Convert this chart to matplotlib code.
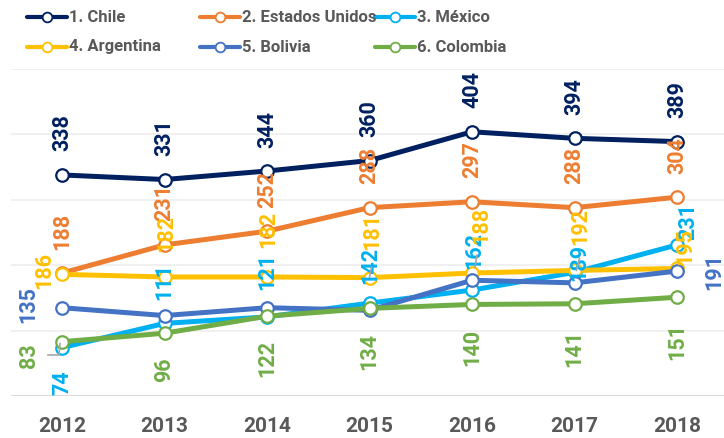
import matplotlib
matplotlib.use('Agg')
import matplotlib.pyplot as plt
from matplotlib import font_manager
from matplotlib.lines import Line2D
from matplotlib.transforms import IdentityTransform

# data
years = ['2012', '2013', '2014', '2015', '2016', '2017', '2018']
chile = [338, 331, 344, 360, 404, 394, 389]
estados_unidos = [188, 231, 252, 288, 297, 288, 304]
mexico = [74, 111, 121, 142, 162, 189, 231]
argentina = [186, 182, 182, 181, 188, 192, 195]
bolivia = [135, 123, 135, 131, 177, 173, 191]
colombia = [83, 96, 122, 134, 140, 141, 151]

names = ['1. Chile', '2. Estados Unidos', '3. México',
         '4. Argentina', '5. Bolivia', '6. Colombia']
colors = ['#002060', '#ED7D31', '#00B0F0', '#FFC000', '#4472C4', '#70AD47']
series = [chile, estados_unidos, mexico, argentina, bolivia, colombia]

# label centre offsets from the marker, in pixels (up is positive); None = no label
UP = (0, 42)
label_offsets = [
    [UP] * 7,
    [UP] * 7,
    [(0, -35), UP, (0, 45), (1, 38), (2, 40), (5, 10), (11, 23)],
    [(-18, 4), (2, 44), (1, 48), (3, 46), (9, 48), (6, 44), (8, 22)],
    [(-34, 3), None, None, None, None, None, (37, 0)],
    [(-33, -14), (0, -37), (0, -42), (0, -43), (0, -43), (0, -45), (0, -44)],
]
# small grey leader lines (series index, point index, start offset, end offset) in pixels
leaders = [
    (2, 3, (2, 36), (0, 26)),
    (2, 4, (5, 35), (3, 23)),
    (2, 5, (5, 14), (2, 2)),
    (2, 0, (-2, 4), (-3, -7)),
    (2, 0, (-14, -7), (-3, -7)),
]

available = {f.name for f in font_manager.fontManager.ttflist}
legend_family = 'Liberation Sans Narrow' if 'Liberation Sans Narrow' in available else 'Roboto'
legend_size = 13 if legend_family == 'Liberation Sans Narrow' else 12
plt.rcParams['font.family'] = ['Roboto', 'DejaVu Sans']

W, H = 724, 438
fig = plt.figure(figsize=(W / 100, H / 100), dpi=100)
ax = fig.add_axes([11 / W, 42 / H, 713 / W, 327 / H])
ax.set_xlim(-0.4976, 6.4585)
ax.set_ylim(0, 500)

for y in [100, 200, 300, 400, 500]:
    ax.axhline(y, color='#EFEFEF', lw=1.3, zorder=0)
ax.axhline(0, color='#D9D9D9', lw=1.5, zorder=0)

x = list(range(len(years)))
for k, (vals, c) in enumerate(zip(series, colors)):
    ax.plot(x, vals, color=c, lw=3.6, marker='o', markersize=9,
            markerfacecolor='white', markeredgecolor=c, markeredgewidth=1.6,
            zorder=2 + k, solid_capstyle='round')

for vals, c, offs in zip(series, colors, label_offsets):
    for i, v in enumerate(vals):
        if offs[i] is None:
            continue
        dx, dy = offs[i]
        ax.annotate(str(v), (i, v), xytext=(dx * 0.72, dy * 0.72),
                    textcoords='offset points', ha='center', va='center',
                    rotation=90, fontsize=15.5, fontweight='bold', color=c,
                    zorder=20, annotation_clip=False)

for s, i, p0, p1 in leaders:
    px, py = ax.transData.transform((i, series[s][i]))
    fig.add_artist(Line2D([px + p0[0], px + p1[0]], [py + p0[1], py + p1[1]],
                          transform=IdentityTransform(), color='#A6A6A6', lw=1.2,
                          zorder=30))

ax.set_xticks(x)
ax.set_xticklabels(years, fontsize=15, fontweight='bold', color='#595959')
ax.tick_params(axis='x', length=0, pad=15)
ax.set_yticks([])
for sp in ax.spines.values():
    sp.set_visible(False)

# legend drawn by hand: Excel spreads the entries over equal columns
col_x = [27, 200, 375]
row_y = [17, 47]
for k, (name, c) in enumerate(zip(names, colors)):
    x0 = col_x[k % 3]
    y0 = H - row_y[k // 3]
    fig.add_artist(Line2D([x0 / W, (x0 + 40) / W], [y0 / H, y0 / H], color=c, lw=3,
                          solid_capstyle='round'))
    fig.add_artist(Line2D([(x0 + 20) / W], [y0 / H], marker='o', markersize=7,
                          markerfacecolor='white', markeredgecolor=c,
                          markeredgewidth=1.3, color=c))
    fig.text((x0 + 42) / W, y0 / H, name, ha='left', va='center',
             fontsize=legend_size, fontweight='bold', color='#595959',
             family=[legend_family, 'DejaVu Sans'])

fig.savefig('out.png', dpi=100)
